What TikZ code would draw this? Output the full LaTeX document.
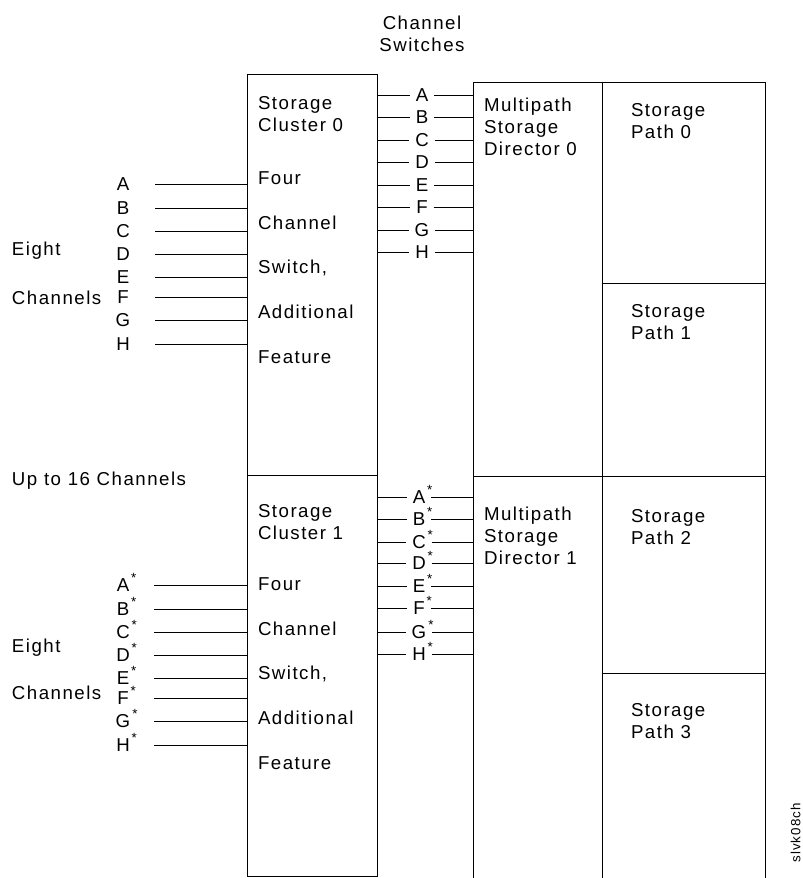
\documentclass[tikz,border=0pt]{standalone}
\usepackage{fontspec}
\setmainfont{Liberation Sans}[LetterSpace=8]
\usetikzlibrary{calc}
\newcommand{\st}{\rlap{\smash{\kern1.5pt\raisebox{7pt}{\fontsize{10}{10}\selectfont *}}}}
\begin{document}
\begin{tikzpicture}[x=.75pt,y=-.75pt,
  every node/.style={inner sep=0pt,outer sep=0pt,font=\fontsize{14}{16.5}\selectfont},
  unit/.style={draw,line width=.7pt,anchor=north west},
  txt/.style={anchor=north west,align=left},
  wide/.style={txt,font=\fontsize{14}{33.6}\selectfont},
  sw/.style={inner xsep=4.5pt},
  ln/.style={line width=.7pt}]
\useasboundingbox (0,0) rectangle (803,878);
\clip (0,0) rectangle (803,878);
% storage clusters
\node[unit,minimum width=97.5pt,minimum height=300.75pt] (sc0) at (247,74) {};
\node[unit,minimum width=97.5pt,minimum height=301.1pt] (sc1) at (247,475) {};
% directors and paths
\node[unit,minimum width=96.75pt,minimum height=295.5pt] (msd0) at (473,82) {};
\node[unit,minimum width=96.75pt,minimum height=310.5pt] (msd1) at (473,476) {};
\node[unit,minimum width=122.25pt,minimum height=150.75pt] (sp0) at (602,82) {};
\node[unit,minimum width=122.25pt,minimum height=144.75pt] (sp1) at (602,283) {};
\node[unit,minimum width=122.25pt,minimum height=147.75pt] (sp2) at (602,476) {};
\node[unit,minimum width=122.25pt,minimum height=162.75pt] (sp3) at (602,673) {};
% texts
\node[align=center] (title) at (422,33.5) {Channel\\Switches};
\node[txt] (sc0a) at (258,96.5) {Storage\\Cluster 0};
\node[wide] (sc0b) at (258,171.5) {Four\\Channel\\Switch,\\Additional\\Feature};
\node[txt] (sc1a) at (258,504.5) {Storage\\Cluster 1};
\node[wide] (sc1b) at (258,577.5) {Four\\Channel\\Switch,\\Additional\\Feature};
\node[txt] (msd0t) at (484,97.5) {Multipath\\Storage\\Director 0};
\node[txt] (msd1t) at (484,506.5) {Multipath\\Storage\\Director 1};
\node[txt] (sp0t) at (631,103.5) {Storage\\Path 0};
\node[txt] (sp1t) at (631,304.5) {Storage\\Path 1};
\node[txt] (sp2t) at (631,509.5) {Storage\\Path 2};
\node[txt] (sp3t) at (631,703.5) {Storage\\Path 3};
\node[txt] (eight0) at (12,241.5) {Eight};
\node[txt] (chans0) at (12,290.5) {Channels};
\node[txt] (upto) at (12,471.5) {Up to 16 Channels};
\node[txt] (eight1) at (12,638.5) {Eight};
\node[txt] (chans1) at (12,685.5) {Channels};
\node[rotate=90,font=\fontsize{10}{10}\selectfont] (figid) at (795.5,833) {slvk08ch};
% channels into cluster 0
\foreach \n/\y in {A/184,B/208,C/231,D/254,E/277,F/297,G/320,H/344}{
  \node (ch\n) at (123,\y) {\n};
  \draw[ln] ($(ch\n)+(32,0)$) -- (ch\n -| sc0.west);
}
% channels into cluster 1
\foreach \n/\y in {A/585,B/609,C/632,D/655,E/678,F/698,G/721,H/745}{
  \node (cs\n) at (123,\y) {\n\st};
  \draw[ln] ($(cs\n)+(31,0)$) -- (cs\n -| sc1.west);
}
% switches, cluster 0 to director 0
\foreach \n/\y in {A/95,B/117,C/140,D/162,E/185,F/207,G/230,H/252}{
  \node[sw] (sw\n) at (422,\y) {\n};
  \draw[ln] (sc0.east |- sw\n) -- (sw\n);
  \draw[ln] (sw\n) -- (msd0.west |- sw\n);
}
% switches, cluster 1 to director 1
\foreach \n/\y in {A/497,B/519,C/542,D/563,E/586,F/608,G/632,H/654}{
  \node[sw] (ss\n) at (419,\y) {\n\st};
  \draw[ln] (sc1.east |- ss\n) -- (ss\n);
  \draw[ln] (ss\n) -- (msd1.west |- ss\n);
}
\end{tikzpicture}
\end{document}
